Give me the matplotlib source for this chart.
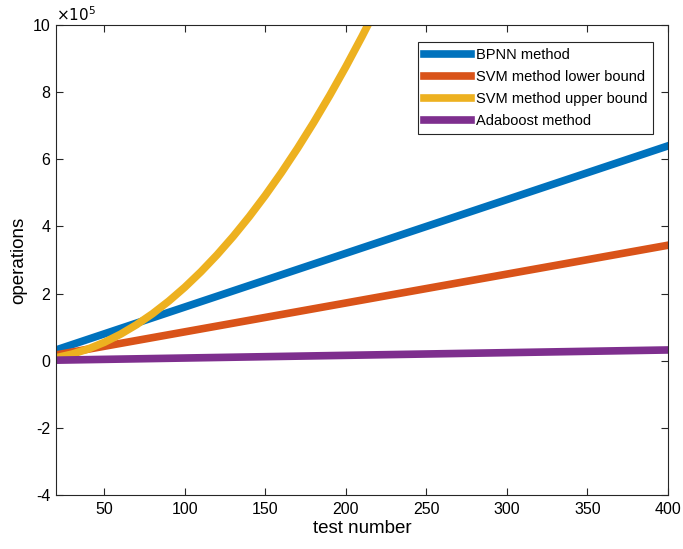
import matplotlib
matplotlib.use("Agg")
from matplotlib import pyplot as plt
from matplotlib.ticker import FuncFormatter

plt.rcParams['font.family'] = ['Liberation Sans', 'DejaVu Sans']

# test number (x) for the linear methods
x_lin = [20, 100, 200, 300, 400]
bpnn = [32000, 160000, 320000, 480000, 640000]
svm_lower = [17200, 86000, 172000, 258000, 344000]
adaboost = [1600, 8000, 16000, 24000, 32000]

# upper bound curve
x_up = [20, 30, 40, 50, 60, 70, 80, 90, 100, 110, 120, 130, 140, 150,
        160, 170, 180, 190, 200, 210, 220]
svm_upper = [8800, 19700, 35000, 54800, 78800, 107300, 140200, 177400,
             219000, 265000, 315400, 370100, 429200, 492800, 560600,
             632900, 709600, 790600, 876000, 965800, 1060000]

colors = ['#0072BD', '#D95319', '#EDB120', '#7E2F8E']
labels = ['BPNN method', 'SVM method lower bound', 'SVM method upper bound', 'Adaboost method']

fig = plt.figure(figsize=(6.83, 5.49), dpi=100)
ax = fig.add_axes([0.082, 0.0984, 0.896, 0.856])

lw = 5.5
ax.plot(x_lin, bpnn, color=colors[0], lw=lw, label=labels[0])
ax.plot(x_lin, svm_lower, color=colors[1], lw=lw, label=labels[1])
ax.plot(x_up, svm_upper, color=colors[2], lw=lw, label=labels[2])
ax.plot(x_lin, adaboost, color=colors[3], lw=lw, label=labels[3])

ax.set_xlim(20, 400)
ax.set_ylim(-4e5, 10e5)
ax.set_xticks([50, 100, 150, 200, 250, 300, 350, 400])
ax.set_yticks([-4e5, -2e5, 0, 2e5, 4e5, 6e5, 8e5, 10e5])
ax.yaxis.set_major_formatter(FuncFormatter(lambda v, p: f'{v / 1e5:g}'))
ax.tick_params(direction='in', top=True, right=True, labelsize=11.5, length=5,
               width=0.8, colors='#262626', labelcolor='black')
ax.tick_params(axis='x', pad=5)
ax.tick_params(axis='y', pad=4)
for s in ax.spines.values():
    s.set_color('#262626')
    s.set_linewidth(0.8)

ax.text(0, 1.003, r'$\times10^{5}$', transform=ax.transAxes, fontsize=11,
        ha='left', va='bottom')

ax.set_xlabel('test number', fontsize=13.5, labelpad=2)
ax.set_ylabel('operations', fontsize=13.5, labelpad=4)

leg = ax.legend(loc='upper right', bbox_to_anchor=(0.976, 0.963), fontsize=10.5,
                fancybox=False, edgecolor='#262626', framealpha=1,
                handlelength=3.2, handletextpad=0.35, borderpad=0.4,
                labelspacing=0.55, borderaxespad=0)
leg.get_frame().set_linewidth(0.8)

fig.savefig('out.png', dpi=100)
